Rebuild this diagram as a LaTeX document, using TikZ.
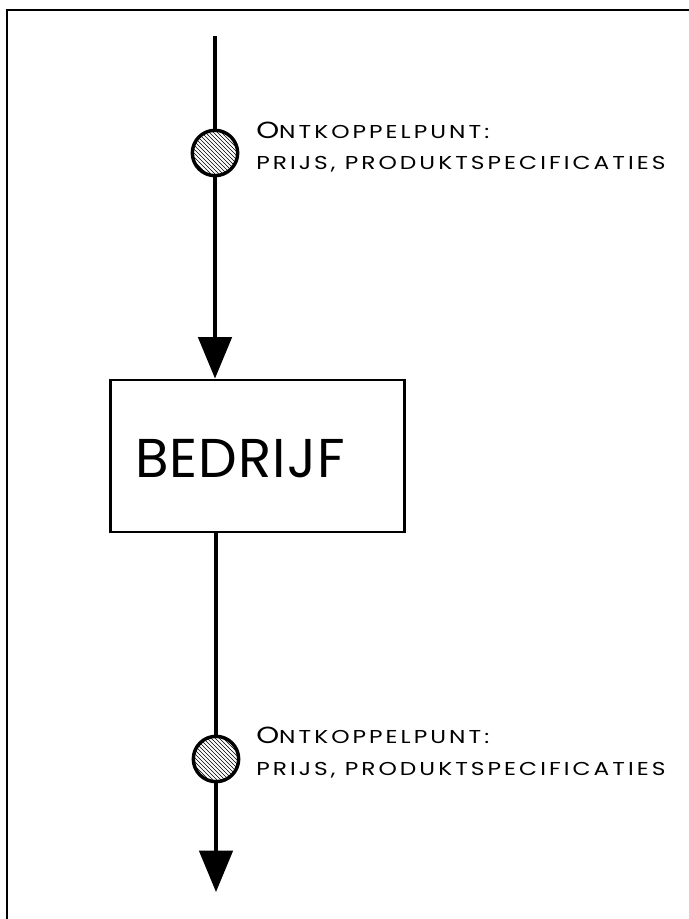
\documentclass[tikz,border=0pt]{standalone}
\usepackage{fontspec}
\setmainfont{Poppins}
\usetikzlibrary{patterns,arrows.meta}
\newfontfamily\lblfont[LetterSpace=13]{Poppins}
\newfontfamily\boxfont[LetterSpace=2]{Poppins}
\tikzset{
  conn/.style={line width=2.6pt},
  headarrow/.style={-{Triangle[length=31pt,width=25pt]}},
  dpoint/.style={circle,draw,line width=2.6pt,minimum size=34pt,inner sep=0pt,pattern=north west lines},
  lbl/.style={anchor=base west,inner sep=0pt,font=\lblfont\fontsize{14}{16}\selectfont},
}
\newcommand{\ontk}{\scalebox{1.25}[1]{{\fontsize{17.5}{18}\selectfont O}NTKOPPELPUNT:}}
\newcommand{\prijs}{\scalebox{1.25}[1]{PRIJS, PRODUKTSPECIFICATIES}}
\begin{document}
\begin{tikzpicture}[x=0.75pt,y=-0.75pt]
\useasboundingbox (0,0) rectangle (688,919);
\draw[line width=1.1pt] (7,930) -- (7,10) -- (700,10);
\coordinate (start) at (215,36);
\node[dpoint] (c1) at (215,153) {};
\node[draw,line width=2.2pt,minimum width=221pt,minimum height=114pt,inner sep=0pt] (box) at (257.5,456) {};
\node[font=\boxfont\fontsize{41}{43}\selectfont,anchor=base,inner sep=0pt] (boxtxt) at (240,477) {BEDRIJF};
\node[dpoint] (c2) at (216,759) {};
\coordinate (end) at (216,892);
\node[lbl] (t1a) at (256,139) {\ontk};
\node[lbl] (t1b) at (256,170) {\prijs};
\node[lbl] (t2a) at (256,743) {\ontk};
\node[lbl] (t2b) at (256,775) {\prijs};
\draw[conn] (start) -- (c1);
\draw[conn,headarrow] (c1) -- (c1 |- box.north);
\draw[conn] (c2 |- box.south) -- (c2);
\draw[conn,headarrow] (c2) -- (end);
\end{tikzpicture}
\end{document}
